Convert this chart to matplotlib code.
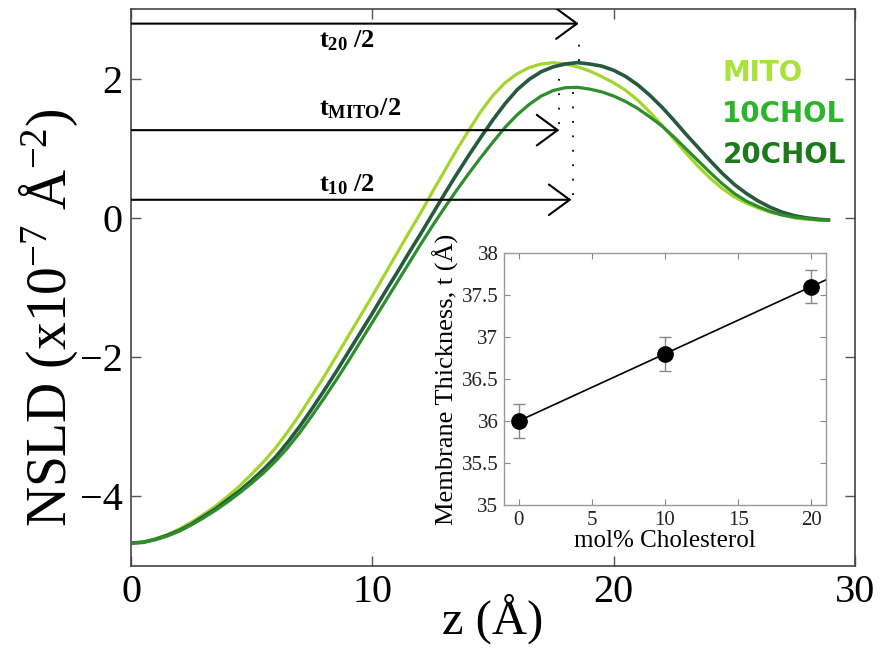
import numpy as np
import matplotlib
matplotlib.use("Agg")
import matplotlib.pyplot as plt
from matplotlib.patches import FancyArrowPatch
from matplotlib.ticker import FormatStrFormatter

plt.rcParams['font.family'] = ['Liberation Serif', 'DejaVu Serif']
plt.rcParams['mathtext.fontset'] = 'custom'
plt.rcParams['mathtext.rm'] = 'Liberation Serif'
plt.rcParams['mathtext.it'] = 'Liberation Serif:italic'
plt.rcParams['mathtext.bf'] = 'Liberation Serif:bold'

# ---- main panel data (NSLD profiles) ----
z_grid = [0, 0.5, 1, 1.5, 2, 2.5, 3, 3.5, 4, 4.5, 5, 5.5, 6, 6.5, 7, 7.5, 8, 8.5, 9, 9.5,
          10, 10.5, 11, 11.5, 12, 12.5, 13, 13.5, 14, 14.5, 15, 15.5, 16, 16.5, 17, 17.5,
          18, 18.5, 19, 19.5, 20, 20.5, 21, 21.5, 22, 22.5, 23, 23.5, 24, 24.5, 25, 25.5,
          26, 26.5, 27, 27.5, 28, 28.5, 28.9]

nsld_mito = [-4.67, -4.655, -4.61, -4.55, -4.47, -4.37, -4.26, -4.14, -4.00, -3.85, -3.68,
             -3.50, -3.30, -3.07, -2.82, -2.55, -2.28, -1.99, -1.70, -1.41,
             -1.12, -0.82, -0.52, -0.22, 0.07, 0.38, 0.68, 0.98, 1.26, 1.53, 1.76, 1.94,
             2.07, 2.16, 2.21, 2.23, 2.21, 2.17, 2.11, 2.03, 1.94, 1.83, 1.69, 1.52,
             1.33, 1.13, 0.93, 0.74, 0.57, 0.42, 0.30, 0.21, 0.14, 0.08, 0.04, 0.00,
             -0.02, -0.03, -0.03]

nsld_10 = [-4.67, -4.66, -4.62, -4.57, -4.50, -4.41, -4.31, -4.20, -4.08, -3.95, -3.81,
           -3.66, -3.49, -3.30, -3.08, -2.84, -2.59, -2.33, -2.06, -1.78,
           -1.50, -1.22, -0.94, -0.66, -0.38, -0.11, 0.15, 0.40, 0.64, 0.87, 1.09, 1.30,
           1.48, 1.63, 1.75, 1.83, 1.87, 1.875, 1.85, 1.81, 1.75, 1.67, 1.57, 1.45,
           1.32, 1.16, 0.99, 0.82, 0.65, 0.49, 0.35, 0.24, 0.16, 0.09, 0.04, 0.01,
           -0.01, -0.03, -0.03]

nsld_20 = [-4.67, -4.66, -4.62, -4.56, -4.49, -4.40, -4.29, -4.18, -4.05, -3.92, -3.77,
           -3.61, -3.43, -3.22, -2.99, -2.74, -2.48, -2.21, -1.93, -1.65,
           -1.37, -1.08, -0.80, -0.51, -0.23, 0.06, 0.35, 0.63, 0.90, 1.16, 1.41, 1.64,
           1.84, 1.99, 2.10, 2.17, 2.21, 2.23, 2.21, 2.18, 2.12, 2.03, 1.91, 1.76,
           1.59, 1.40, 1.20, 1.01, 0.82, 0.64, 0.48, 0.35, 0.24, 0.15, 0.08, 0.03,
           0.00, -0.02, -0.03]

series_names = ["MITO", "10CHOL", "20CHOL"]

# half-thickness arrows: (label, y level, arrow end z)
arrow_labels = [r"t$_{\mathbf{20}}$ /2", r"t$_{\mathbf{MITO}}$/2", r"t$_{\mathbf{10}}$ /2"]
arrow_y = [2.79, 1.26, 0.26]
arrow_end = [18.55, 17.75, 18.25]
label_y = [2.54, 1.57, 0.47]
# dotted guide lines (z, y_top, y_bottom)
guide_z = [18.55, 18.3, 17.75]
guide_top = [2.62, 1.88, 2.20]
guide_bot = [2.25, 0.33, 1.35]

# ---- inset data ----
chol = [0, 10, 20]
thickness = [36.0, 36.8, 37.6]
thickness_err = [0.2, 0.2, 0.2]

curve_colors = ["#a3d52c", "#2e8e2e", "#265a3c"]
text_colors = ["#a8e23a", "#2cb52c", "#1c7a1c"]

fig = plt.figure(figsize=(8.8, 6.57), dpi=100)
ax = fig.add_axes([0.1489, 0.1385, 0.8227, 0.8478])

ax.plot(z_grid, nsld_mito, color=curve_colors[0], lw=2.3, zorder=3)
ax.plot(z_grid, nsld_20, color=curve_colors[2], lw=2.6, zorder=3)
ax.plot(z_grid, nsld_10, color=curve_colors[1], lw=2.3, zorder=3)

ax.set_xlim(0, 30)
ax.set_ylim(-5, 3)
ax.set_xticks([0, 10, 20, 30])
ax.set_yticks([-4, -2, 0, 2])
ax.tick_params(direction='in', length=7, width=1, top=True, right=True,
               labelsize=29, colors='#555555', labelcolor='black', pad=6)
for s in ax.spines.values():
    s.set_color('#444444')
    s.set_linewidth(1.2)
ax.set_xlabel("z (Å)", fontsize=35)
ax.xaxis.set_label_coords(0.5, -0.05)
ax.set_ylabel(r"NSLD (x10$^{-7}$ Å$^{-2}$)", fontsize=40)
ax.yaxis.set_label_coords(-0.07, 0.445)

for lab, yv, ze, ly in zip(arrow_labels, arrow_y, arrow_end, label_y):
    arr = FancyArrowPatch((0, yv), (ze, yv), arrowstyle='->,head_length=0.75,head_width=0.55',
                          mutation_scale=20, lw=1.5, color='black',
                          shrinkA=0, shrinkB=0, zorder=4)
    ax.add_patch(arr)
    ax.text(7.8, ly, lab, fontsize=19, fontweight='bold', ha='left', va='center')

for gz, gt, gb in zip(guide_z, guide_top, guide_bot):
    ax.plot([gz, gz], [gb, gt], color='black', lw=1.3, linestyle=(0, (1, 7)), zorder=2)

for i, (name, c) in enumerate(zip(series_names, text_colors)):
    ax.text(24.5, 2.086 - i * 0.593, name, color=c, fontsize=20, fontweight='bold',
            family='DejaVu Sans', ha='left', va='center')

# ---- inset ----
ins = fig.add_axes([0.5727, 0.2314, 0.3659, 0.3835])
fit = np.polyfit(chol, thickness, 1)
xf = np.array([-0.35, 21])
ins.plot(xf, np.polyval(fit, xf), color='black', lw=1.2, zorder=2)
ins.errorbar(chol, thickness, yerr=thickness_err, fmt='o', color='black',
             markersize=11, ecolor='#888888', elinewidth=1, capsize=4, capthick=1, zorder=3)
ins.set_xlim(-1, 21)
ins.set_ylim(35, 38)
ins.set_xticks([0, 5, 10, 15, 20])
ins.set_yticks([35, 35.5, 36, 36.5, 37, 37.5, 38])
ins.yaxis.set_major_formatter(FormatStrFormatter('%g'))
ins.tick_params(direction='in', length=4, width=0.8, top=True, right=True,
                labelsize=15, colors='#888888', labelcolor='#222222', pad=4)
for s in ins.spines.values():
    s.set_color('#999999')
    s.set_linewidth(1.0)
ins.set_xlabel("mol% Cholesterol", fontsize=18, labelpad=0)
ins.set_ylabel("Membrane Thickness, t (Å)", fontsize=19, labelpad=2)

fig.savefig("out.png", dpi=100)
